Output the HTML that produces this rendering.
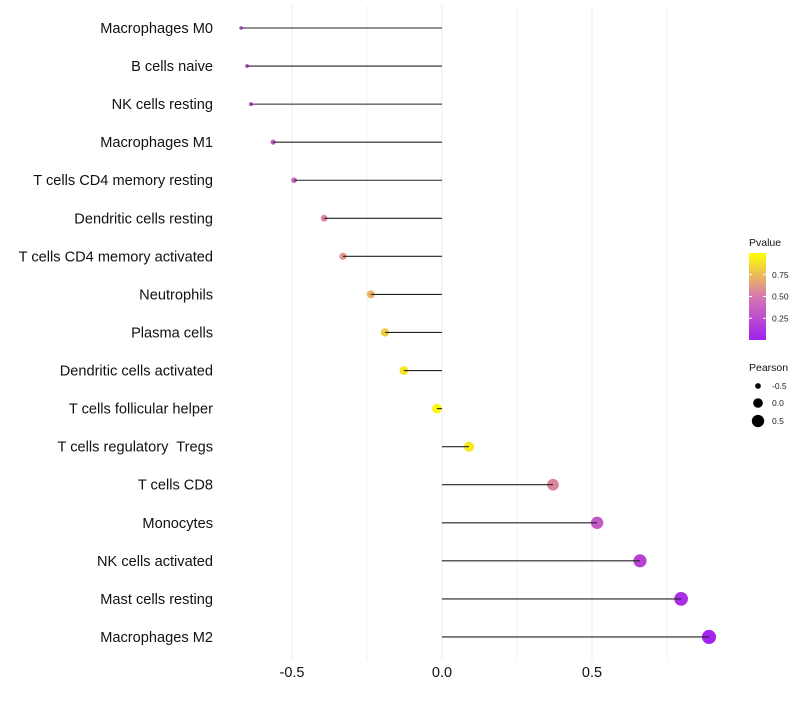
<!DOCTYPE html>
<html><head><meta charset="utf-8"><style>body{margin:0;background:#fff;font-family:"Liberation Sans",sans-serif}</style></head>
<body>
<svg id="c" width="800" height="700" xmlns="http://www.w3.org/2000/svg" font-family="Liberation Sans, sans-serif"></svg>
<script>
const categories=["Macrophages M0","B cells naive","NK cells resting","Macrophages M1","T cells CD4 memory resting","Dendritic cells resting","T cells CD4 memory activated","Neutrophils","Plasma cells","Dendritic cells activated","T cells follicular helper","T cells regulatory\u00a0 Tregs","T cells CD8","Monocytes","NK cells activated","Mast cells resting","Macrophages M2"];
const pearson=[-0.67,-0.65,-0.637,-0.563,-0.493,-0.393,-0.33,-0.237,-0.19,-0.127,-0.017,0.09,0.37,0.517,0.66,0.797,0.89];
const pvalue=[0.22,0.25,0.27,0.33,0.4,0.55,0.62,0.72,0.82,0.9,0.97,0.92,0.55,0.33,0.2,0.08,0.03];
const xTicks=[-0.5,0,0.5];
const xTickLabels=["-0.5","0.0","0.5"];
const xGrid=[-0.5,-0.25,0,0.25,0.5,0.75];
const NS="http://www.w3.org/2000/svg",svg=document.getElementById('c');
const x=v=>442+v*300, y=i=>28+i*38.06;
const rad=v=>Math.sqrt(2.2+(v+0.7)*(50-2.2)/1.6);
function lerp(a,b,t){return a.map((c,i)=>Math.round(c+(b[i]-c)*t));}
function col(p){const A=[160,32,240],M=[215,120,175],B=[255,255,0];const c=p<0.5?lerp(A,M,p/0.5):lerp(M,B,(p-0.5)/0.5);return `rgb(${c})`;}
function mk(t,a,p){const e=document.createElementNS(NS,t);for(const k in a)e.setAttribute(k,a[k]);(p||svg).appendChild(e);return e;}
xGrid.forEach(g=>{const l=mk('line',{x1:x(g),x2:x(g),y1:5,y2:660,stroke:'#ebebeb','stroke-width':xTicks.includes(g)?1:0.6});

});
xTicks.forEach((t,i)=>{const e=mk('text',{x:x(t),y:677,'text-anchor':'middle','font-size':14.5,fill:'#111'});e.textContent=xTickLabels[i];

});
categories.forEach((c,i)=>{
const t=mk('text',{x:213,y:y(i)+5,'text-anchor':'end','font-size':14.6,fill:'#111'});t.textContent=c;


const p=mk('circle',{cx:x(pearson[i]),cy:y(i),r:rad(pearson[i]),fill:col(pvalue[i])});


const l=mk('line',{x1:x(0),x2:x(pearson[i]),y1:y(i),y2:y(i),stroke:'#222','stroke-width':1.1});


});
const g=mk('g',{});


mk('defs',{},g).innerHTML='<linearGradient id="gr" x1="0" y1="1" x2="0" y2="0"><stop offset="0" stop-color="#a020f0"/><stop offset="0.5" stop-color="#d778af"/><stop offset="1" stop-color="#ffff00"/></linearGradient>';
let tt=mk('text',{x:749,y:246,'font-size':10.5,fill:'#111'},g);tt.textContent='Pvalue';
mk('rect',{x:749,y:253,width:17,height:87,fill:'url(#gr)'},g);
[[0.75,"0.75"],[0.5,"0.50"],[0.25,"0.25"]].forEach(([v,s])=>{const yy=340-v*87;mk('line',{x1:749,x2:752,y1:yy,y2:yy,stroke:'#fff'},g);mk('line',{x1:763,x2:766,y1:yy,y2:yy,stroke:'#fff'},g);const e=mk('text',{x:772,y:yy+3,'font-size':8.5,fill:'#222'},g);e.textContent=s;});
tt=mk('text',{x:749,y:371,'font-size':10.5,fill:'#111'},g);tt.textContent='Pearson';
[[-0.5,386,"-0.5"],[0,403,"0.0"],[0.5,421,"0.5"]].forEach(([v,yy,s])=>{mk('circle',{cx:758,cy:yy,r:rad(v),fill:'#000'},g);const e=mk('text',{x:772,y:yy+3,'font-size':8.5,fill:'#222'},g);e.textContent=s;});
</script>
</body></html>
